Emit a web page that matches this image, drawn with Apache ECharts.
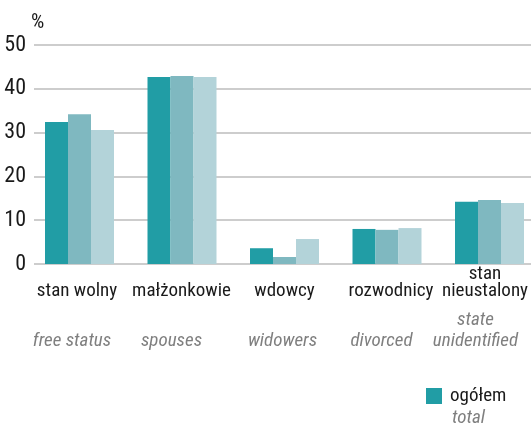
<!DOCTYPE html>
<html><head><meta charset="utf-8">
<script src="https://cdn.jsdelivr.net/npm/echarts@6/dist/echarts.min.js"></script>
<style>html,body{margin:0;padding:0;background:#fff}#c{width:531px;height:428px}</style>
</head><body><div id="c"></div>
<script>
const categoriesPL = [['', 'stan wolny'], ['', 'małżonkowie'], ['', 'wdowcy'], ['', 'rozwodnicy'], ['stan', 'nieustalony']];
const categoriesEN = [['', 'free status'], ['', 'spouses'], ['', 'widowers'], ['', 'divorced'], ['state', 'unidentified']];
const seriesNames = ['ogółem', 'mężczyźni', 'kobiety'];
const legendSub = 'total';
const valsTotal = [32.4, 42.7, 3.6, 8.0, 14.2];
const valsMen = [34.2, 42.9, 1.6, 7.8, 14.6];
const valsWomen = [30.6, 42.7, 5.7, 8.2, 13.9];
const yTicks = [0, 10, 20, 30, 40, 50];

// layout tweaks: horizontal nudges (px) of the label lines relative to the category centre
const nudgePL = [-2.5, -0.5, 0, 4, -4.5];
const nudgeEN = [-7.5, -10.5, -2, -5.5, -14];

const FONT = '"Roboto Condensed", "DejaVu Sans Condensed", sans-serif';
const colors = ['#219da5', '#7fb8c0', '#b3d3d9'];
const catKeys = categoriesPL.map((c, i) => String(i));

function pad(d) { return d < 0 ? [0, -2 * d, 0, 0] : [0, 0, 0, 2 * d]; }
const rich = {g: {fontSize: 8, lineHeight: 10}};
catKeys.forEach((k, i) => {
  rich['a' + i] = {fontFamily: FONT, fontSize: 19, lineHeight: 17, color: '#1a1a1a', align: 'center', padding: pad(nudgePL[i])};
  rich['b' + i] = {fontFamily: FONT, fontSize: 19, lineHeight: 21, color: '#7f7f7f', fontStyle: 'italic', align: 'center', padding: pad(nudgeEN[i])};
});

const chart = echarts.init(document.getElementById('c'), null, {renderer: 'canvas'});
const common = {min: yTicks[0], max: yTicks[yTicks.length - 1], interval: 10};
chart.setOption({
  animation: false,
  textStyle: {fontFamily: FONT},
  grid: [
    {left: 34, right: 0, top: 45, bottom: 164, outerBoundsMode: 'none'},
    {left: 28.25, width: 512.5, top: 45, bottom: 164, outerBoundsMode: 'none', containLabel: false}
  ],
  xAxis: [
    {type: 'category', gridIndex: 0, data: catKeys, show: false},
    {type: 'category', gridIndex: 1, data: catKeys,
      axisLine: {show: false}, axisTick: {show: false},
      axisLabel: {
        interval: 0, margin: 2, verticalAlign: 'top',
        formatter: function (v) {
          const i = +v;
          const p = categoriesPL[i], e = categoriesEN[i];
          const a = 'a' + i, b = 'b' + i;
          return '{' + a + '|' + (p[0] || ' ') + '}\n{' + a + '|' + p[1] + '}\n{g| }\n{' + b + '|' + (e[0] || ' ') + '}\n{' + b + '|' + e[1] + '}';
        },
        rich: rich
      }
    }
  ],
  yAxis: [
    Object.assign({type: 'value', gridIndex: 0,
      name: '%', nameLocation: 'end', nameGap: 12,
      nameTextStyle: {fontFamily: FONT, fontSize: 21, color: '#1a1a1a', align: 'left', padding: [0, 0, 0, -3]},
      axisLine: {show: false}, axisTick: {show: false},
      axisLabel: {margin: 8, fontFamily: FONT, fontSize: 22, color: '#1a1a1a'},
      splitLine: {show: true, lineStyle: {color: '#bdbdbd', width: 1.5}}
    }, common),
    Object.assign({type: 'value', gridIndex: 1, show: false, splitLine: {show: false}}, common)
  ],
  legend: {
    data: [seriesNames[0]],
    left: 426, top: 365, padding: 0,
    icon: 'rect', itemWidth: 16, itemHeight: 16, itemGap: 10,
    formatter: function (n) { return '{c| }\n{a|' + n + '}\n{b|' + legendSub + '}'; },
    textStyle: {
      rich: {
        c: {fontSize: 18, lineHeight: 22},
        a: {fontFamily: FONT, fontSize: 19, lineHeight: 22, color: '#1a1a1a', padding: [0, 0, 0, 3]},
        b: {fontFamily: FONT, fontSize: 19, lineHeight: 22, color: '#7f7f7f', fontStyle: 'italic', padding: [0, 0, 0, 5]}
      }
    }
  },
  series: [valsTotal, valsMen, valsWomen].map((d, i) => ({
    type: 'bar', name: seriesNames[i], xAxisIndex: 1, yAxisIndex: 1,
    data: d, barWidth: 23, barGap: '0%',
    itemStyle: {color: colors[i]}
  }))
});
</script></body></html>
